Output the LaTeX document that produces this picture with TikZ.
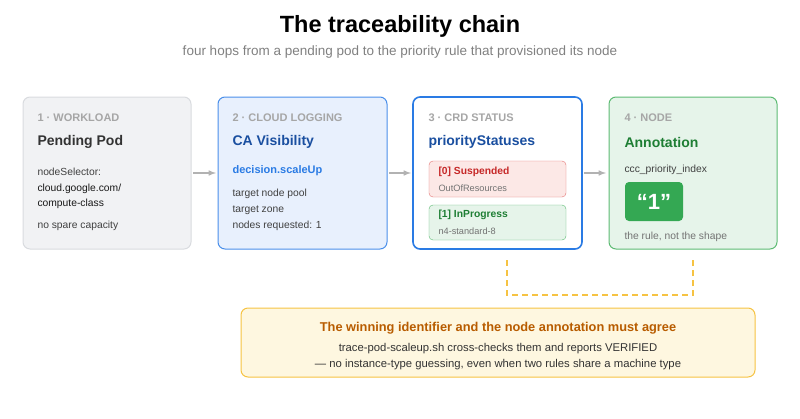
\documentclass[tikz,border=0pt]{standalone}
\usepackage{fontspec}
\setmainfont{Liberation Sans}
\begin{document}
\begin{tikzpicture}[x=1pt,y=-1pt,
 card/.style={rounded corners=7pt,line width=1pt},
 lab/.style={anchor=west,font=\fontsize{11}{13}\selectfont\bfseries,text=gray!70},
 ttl/.style={anchor=west,font=\fontsize{14}{17}\selectfont\bfseries},
 bod/.style={anchor=west,font=\fontsize{10.3}{12}\selectfont,text=black!75},
 arr/.style={-latex,line width=1.5pt,draw=gray!60}]
\useasboundingbox (0,0) rectangle (800,418);
\definecolor{gbg}{HTML}{F1F2F4}\definecolor{gbd}{HTML}{D9DBDF}
\definecolor{bbg}{HTML}{E8F0FD}\definecolor{bbd}{HTML}{4A8FEA}
\definecolor{bdark}{HTML}{1A4FA0}\definecolor{blink}{HTML}{2A7BE4}
\definecolor{nbg}{HTML}{E6F4EA}\definecolor{nbd}{HTML}{5DBB73}
\definecolor{ndark}{HTML}{1E7E34}\definecolor{nfill}{HTML}{34A853}
\definecolor{rbg}{HTML}{FCE8E6}\definecolor{rbd}{HTML}{E57373}\definecolor{rdark}{HTML}{C62828}
\definecolor{ybg}{HTML}{FEF7E0}\definecolor{ybd}{HTML}{F6C343}\definecolor{odark}{HTML}{B85C00}
\node (t) at (400,26) {\fontsize{23.5}{28}\selectfont\bfseries The traceability chain};
\node (st) at (400,52) [text=gray] {\fontsize{13.5}{16}\selectfont four hops from a pending pod to the priority rule that provisioned its node};
\draw[card,fill=gbg,draw=gbd] (23,97) rectangle (191,249);
\node[lab] at (34,118) {1 · WORKLOAD};
\node[ttl,text=black!80] at (34,142) {Pending Pod};
\node[bod] at (34,172) {nodeSelector:};
\node[bod,text=black!90] at (34,189) {cloud.google.com/};
\node[bod,text=black!90] at (34,204) {compute-class};
\node[bod] at (34,226) {no spare capacity};
\draw[card,fill=bbg,draw=bbd] (218,97) rectangle (387,249);
\node[lab] at (229,118) {2 · CLOUD LOGGING};
\node[ttl,text=bdark] at (229,142) {CA Visibility};
\node[bod,text=blink,font=\fontsize{11}{13}\selectfont\bfseries] at (229,171) {decision.scaleUp};
\node[bod] at (229,194) {target node pool};
\node[bod] at (229,210) {target zone};
\node[bod] at (229,226) {nodes requested: 1};
\draw[card,fill=white,draw=blink,line width=1.6pt] (413,97) rectangle (582,249);
\node[lab] at (425,118) {3 · CRD STATUS};
\node[ttl,text=bdark] at (425,142) {priorityStatuses};
\draw[rounded corners=4pt,fill=rbg,draw=rbd] (429,161) rectangle (566,197);
\node[bod,text=rdark,font=\fontsize{10.3}{12}\selectfont\bfseries] at (435,172) {[0] Suspended};
\node[bod,text=gray!90!black,font=\fontsize{9.2}{11}\selectfont] at (435,188) {OutOfResources};
\draw[rounded corners=4pt,fill=nbg,draw=nbd] (429,205) rectangle (566,240);
\node[bod,text=ndark,font=\fontsize{10.3}{12}\selectfont\bfseries] at (435,215) {[1] InProgress};
\node[bod,text=gray!90!black,font=\fontsize{9.2}{11}\selectfont] at (435,231) {n4-standard-8};
\draw[card,fill=nbg,draw=nbd] (609,97) rectangle (777,249);
\node[lab] at (621,118) {4 · NODE};
\node[ttl,text=ndark] at (621,142) {Annotation};
\node[bod] at (621,170) {ccc\_priority\_index};
\node[fill=nfill,rounded corners=4pt,minimum width=58pt,minimum height=39pt,text=white,font=\fontsize{22}{26}\selectfont\bfseries] (one) at (654,201.5) {“1”};
\node[bod,text=gray!90!black] at (621,237) {the rule, not the shape};
\coordinate (a1) at (193,173);\coordinate (a1e) at (216,173);
\coordinate (a2) at (389,173);\coordinate (a2e) at (411,173);
\coordinate (a3) at (584,173);\coordinate (a3e) at (606,173);
\draw[arr] (a1)--(a1e);\draw[arr] (a2)--(a2e);\draw[arr] (a3)--(a3e);
\coordinate (d1) at (507,260);\coordinate (d2) at (693,260);
\draw[ybd,line width=1.5pt,dash pattern=on 6pt off 4pt] (d1)--(507,295)--(693,295)--(d2);
\draw[rounded corners=7pt,fill=ybg,draw=ybd,line width=1pt] (241,308) rectangle (755,377);
\node[text=odark] at (498,328) {\fontsize{12.8}{15}\selectfont\bfseries The winning identifier and the node annotation must agree};
\node[text=black!80] at (498,349) {\fontsize{11.3}{13}\selectfont trace-pod-scaleup.sh cross-checks them and reports VERIFIED};
\node[text=black!80] at (498,365) {\fontsize{11.3}{13}\selectfont — no instance-type guessing, even when two rules share a machine type};
\end{tikzpicture}
\end{document}
